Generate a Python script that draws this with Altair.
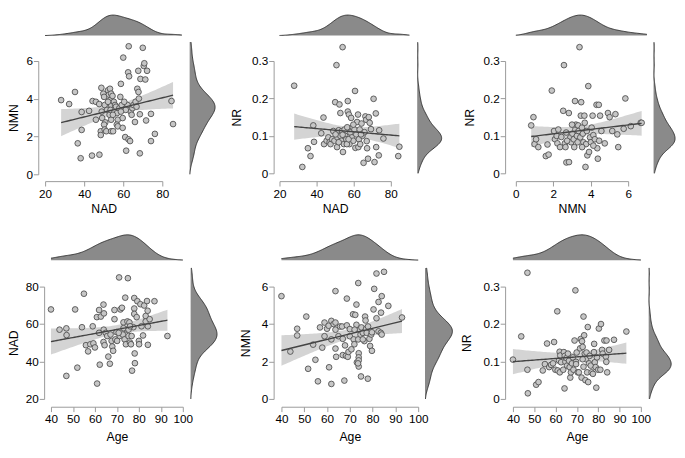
import altair as alt
import numpy as np
import pandas as pd

FONT = "Liberation Sans"
AXIS_GREY = "#9a9a9a"

# ---- data: (x, y) per panel ----
nad_nmn = [(28.2,3.93),(32.3,3.72),(35.3,4.36),(36.7,1.64),(38.7,3.30),(38.7,2.35),(38.2,0.85),(42.5,3.36),
    (44,0.99),(44.3,3.88),(46,3.84),(46,2.89),(47.7,3.72),(47.8,1.04),(48.8,4.58),(49,3.32),(49.2,2.98),
    (48.5,2.28),(48.5,2.08),(49.8,4.27),(50.2,4.10),(50.5,3.67),(50.8,2.75),(50.2,2.63),(50.5,2.37),
    (51.3,2.28),(51.7,3.41),(52.2,4.45),(52.7,4.22),(53,3.15),(53.2,4.53),(53.8,4.27),(53.3,3.93),
    (53.8,3.67),(53.5,3.41),(53.8,2.89),(53.8,2.28),(54.8,2.28),(54.5,4.15),(55.2,3.84),(55.5,3.32),
    (55.8,3.67),(56.3,3.58),(56.8,3.24),(57.2,2.89),(56.7,2.63),(57.2,2.54),(58,3.50),(58.5,4.10),
    (58.8,4.79),(59.2,3.67),(59.7,2.98),(59.7,2.46),(60,6.18),(61,1.97),(61.5,1.25),(62.2,3.67),
    (62.7,1.85),(62.5,5.40),(63,5.19),(62.8,6.78),(63.5,1.76),(63.8,3.32),(64.3,3.15),(64.7,3.50),
    (65.2,3.67),(66,2.77),(66.3,3.84),(66.8,3.58),(67.2,4.53),(67.7,5.48),(67.8,4.36),(68,4.01),
    (68.5,3.18),(68.5,1.11),(68.8,5.05),(70,6.70),(70.5,5.74),(70.8,5.88),(71.3,5.02),(72.2,5.48),
    (71.7,2.85),(74.2,3.20),(74.2,1.76),(76.2,2.14),(84.7,3.88),(85.5,2.66),(52.2,3.84),(54.7,3.15),
    (60.5,3.84),(61.3,3.41),(58.8,3.32)]

nad_nr = [(27.9,0.234),(32.3,0.017),(35.3,0.067),(36.7,0.046),(38.2,0.128),(38.6,0.084),(42.5,0.107),
    (43.7,0.149),(44,0.078),(45.4,0.087),(46.3,0.096),(47,0.083),(47.5,0.078),(48.4,0.091),(49,0.113),
    (49.6,0.087),(50,0.190),(50.7,0.289),(51,0.070),(51.2,0.096),(51.9,0.115),(52.3,0.184),(52.8,0.161),
    (52.8,0.100),(53.3,0.087),(53.7,0.113),(54,0.337),(54.2,0.057),(54.7,0.078),(55.1,0.117),(55.4,0.100),
    (56,0.091),(56.5,0.123),(56.8,0.193),(56.8,0.165),(57.4,0.157),(57.7,0.078),(58.2,0.109),(58.6,0.148),
    (59,0.096),(59.5,0.123),(59.8,0.087),(60.4,0.117),(60.7,0.220),(60.9,0.068),(61.4,0.104),(61.8,0.137),
    (62.3,0.157),(62.5,0.070),(62.8,0.091),(63.2,0.117),(63.5,0.078),(64.2,0.133),(64.7,0.100),(65.3,0.028),
    (65.8,0.110),(66.3,0.152),(66.7,0.143),(67,0.086),(67.2,0.067),(67.7,0.039),(68.1,0.150),(68.6,0.135),
    (69.3,0.118),(70.7,0.199),(71.2,0.030),(71.9,0.160),(72.1,0.070),(73.5,0.048),(73.7,0.115),(76,0.093),
    (84.6,0.071),(84,0.046),(50.2,0.104),(54,0.103),(56.3,0.078),(51.9,0.083),(59.8,0.130),(63.9,0.104),
    (57.2,0.091)]

nmn_nr = [(0.82,0.128),(0.94,0.150),(1.0,0.078),(1.08,0.091),(1.2,0.070),(1.6,0.046),(1.75,0.050),
    (1.69,0.077),(1.92,0.221),(2.04,0.113),(2.09,0.091),(2.18,0.100),(2.27,0.117),(2.22,0.080),(2.36,0.070),
    (2.43,0.097),(2.53,0.167),(2.57,0.289),(2.62,0.080),(2.69,0.109),(2.65,0.070),(2.7,0.029),(2.84,0.030),
    (2.83,0.161),(2.91,0.096),(2.95,0.083),(3.02,0.106),(3.09,0.091),(3.12,0.070),(3.16,0.193),(3.18,0.117),
    (3.21,0.130),(3.26,0.100),(3.3,0.083),(3.33,0.128),(3.35,0.113),(3.4,0.337),(3.44,0.096),(3.47,0.154),
    (3.49,0.190),(3.53,0.122),(3.58,0.106),(3.61,0.083),(3.66,0.154),(3.68,0.135),(3.72,0.017),(3.75,0.078),
    (3.79,0.113),(3.82,0.048),(3.87,0.233),(3.91,0.057),(3.96,0.096),(4.01,0.083),(4.05,0.122),(4.1,0.154),
    (4.14,0.102),(4.22,0.091),(4.31,0.183),(4.35,0.067),(4.38,0.039),(4.43,0.183),(4.45,0.087),(4.5,0.154),
    (4.57,0.113),(4.75,0.080),(4.92,0.161),(5.01,0.150),(5.15,0.113),(5.32,0.158),(5.42,0.104),(5.47,0.070),
    (5.76,0.119),(5.85,0.200),(6.14,0.126),(6.67,0.135),(6.72,0.135),(2.74,0.087),(3.54,0.070),(4.14,0.074),
    (3.0,0.130)]

age_nad = [(40,67.8),(43.9,57.0),(47,57.7),(47.1,54.1),(47,32.3),(51,67.8),(52,36.7),(54.1,58.3),(55,76.2),
    (55.9,48.7),(56.9,45.4),(57.9,49.2),(59,58.8),(59.3,49.7),(60,47.5),(60.9,63.7),(61,28.2),(61.9,67.5),
    (61.9,55.3),(62.2,38.3),(62.7,64.0),(63.9,70.4),(64.1,65.7),(64,57.0),(63.9,50.4),(64.4,48.7),(64.9,55.3),
    (65.6,53.6),(66.1,42.6),(66.8,38.8),(67.1,54.4),(67.6,51.0),(67.9,48.0),(68.3,45.7),(68.9,67.5),(68.9,62.6),
    (69.3,51.8),(69.8,55.7),(70.1,51.0),(71,84.9),(71.3,53.6),(71.6,67.8),(72.3,68.7),(72.7,54.4),(73,60.9),
    (73.5,51.8),(73.8,74.1),(74.1,49.2),(74.5,57.0),(74.8,61.4),(75,84.5),(75.3,53.6),(75.7,60.9),(76,50.1),
    (76.4,49.2),(76.7,53.6),(76.9,35.1),(77.5,58.3),(77.9,73.9),(77.9,68.3),(77.9,65.4),(78.1,44.3),(78.2,39.1),
    (79,63.7),(79.3,72.2),(80,51.0),(80.1,49.2),(80.7,70.6),(81.2,58.8),(81.9,53.9),(82.4,69.9),(83.1,64.3),
    (83.1,61.4),(83.7,72.3),(84,67.1),(84.1,58.8),(84.1,48.9),(84.9,62.6),(87.1,72.2),(93,53.6),(73,57.8),
    (75.3,57.0),(70.8,55.3),(76,58.8)]

age_nmn = [(40,5.49),(43.9,2.53),(46.9,3.75),(46.9,3.39),(50.9,4.40),(51.7,1.61),(53.9,2.90),(54.9,2.09),
    (56,0.94),(56.9,3.82),(57.9,2.74),(58.9,3.35),(58.9,4.08),(60,3.75),(60.7,3.91),(60.9,1.69),(61.9,4.17),
    (61.9,0.80),(61.9,3.18),(62.9,4.0),(63.7,5.76),(63.7,4.08),(63.7,3.70),(63.7,2.69),(64,2.25),(65,3.35),
    (65.7,3.87),(66.6,3.87),(66.9,3.21),(66.9,2.34),(67.6,0.98),(67.9,2.86),(68.3,2.30),(68.7,5.36),(68.7,3.93),
    (69.1,2.25),(69.4,2.51),(70,3.73),(70,3.35),(70.7,2.65),(71.4,4.52),(71.7,3.18),(72,2.92),(72.4,4.49),
    (72.9,5.04),(73.1,1.95),(72.9,3.96),(73.7,6.19),(73.7,3.18),(73.9,2.44),(73.9,2.22),(73.9,2.06),(73.9,1.73),
    (73.6,1.90),(74.3,3.70),(74.7,3.44),(74.9,1.20),(75.1,3.82),(75.7,3.53),(76.4,3.09),(76.7,4.40),(76.9,4.19),
    (77.1,3.73),(77.4,3.53),(77.9,1.08),(78,3.87),(78.6,3.21),(78.9,2.83),(79.4,3.44),(79.7,3.56),(79.7,2.57),
    (80.4,4.78),(80.7,5.88),(81.7,4.31),(81.7,6.70),(82.6,5.18),(82.6,3.61),(83.6,3.53),(83.7,4.61),(84,5.49),
    (84,3.44),(85,6.79),(86.9,4.97),(92.9,4.35),(72.1,3.70),(75.7,3.18)]

age_nr = [(40,0.105),(43.9,0.167),(46.8,0.337),(46.8,0.078),(47,0.015),(50.9,0.038),(52,0.045),(54,0.076),
    (55,0.093),(56,0.148),(57,0.085),(57.9,0.091),(58.8,0.095),(59.3,0.152),(59.9,0.078),(60.8,0.234),(61,0.076),
    (61.6,0.103),(61.9,0.126),(62,0.071),(62.2,0.116),(62.6,0.098),(63.6,0.078),(63.9,0.125),(64.2,0.028),
    (64.3,0.115),(64.6,0.099),(65.1,0.109),(65.4,0.089),(65.8,0.121),(66.3,0.102),(66.6,0.085),(66.9,0.057),
    (67.2,0.071),(67.7,0.095),(68.1,0.111),(68.4,0.078),(68.9,0.156),(69.3,0.290),(69.6,0.099),(69.9,0.124),
    (70.4,0.071),(70.9,0.071),(71.5,0.135),(71.8,0.160),(72.2,0.057),(72.4,0.154),(72.7,0.139),(73.1,0.220),
    (73.1,0.086),(73.4,0.170),(73.7,0.121),(74,0.050),(74.2,0.106),(74.5,0.124),(74.8,0.071),(75.1,0.192),
    (75.3,0.045),(75.7,0.095),(76,0.115),(76.5,0.089),(76.9,0.071),(77.5,0.067),(78,0.125),(78.1,0.147),
    (78.4,0.098),(78.8,0.085),(79.1,0.030),(79.4,0.111),(80,0.078),(80.3,0.188),(81,0.078),(81.3,0.200),
    (81.8,0.131),(82.1,0.121),(82.9,0.156),(83.6,0.113),(83.8,0.099),(83.9,0.156),(84.2,0.071),(85.1,0.131),
    (87.4,0.158),(93.2,0.180),(69.6,0.093),(72.7,0.106)]

# tick values
nad_ticks = [20, 40, 60, 80]
nmn_ticks = [0, 2, 4, 6]
nr_ticks = [0, 0.1, 0.2, 0.3]
age_ticks = [40, 50, 60, 70, 80, 90, 100]


def fit_band(xv, yv):
    x = np.asarray(xv, float)
    y = np.asarray(yv, float)
    n = len(x)
    b1, b0 = np.polyfit(x, y, 1)
    xg = np.linspace(x.min(), x.max(), 60)
    yh = b0 + b1 * xg
    s = np.sqrt(np.sum((y - (b0 + b1 * x)) ** 2) / (n - 2))
    sxx = np.sum((x - x.mean()) ** 2)
    se = s * np.sqrt(1.0 / n + (xg - x.mean()) ** 2 / sxx)
    t = 1.99
    return pd.DataFrame({"x": xg, "fit": yh, "lo": yh - t * se, "hi": yh + t * se})


def bandwidth(v):
    v = np.asarray(v, float)
    sd = v.std(ddof=1)
    q75, q25 = np.percentile(v, [75, 25])
    return float(1.06 * min(sd, (q75 - q25) / 1.34) * len(v) ** -0.2)


def panel(pairs, g):
    pts = pd.DataFrame(pairs, columns=["x", "y"])
    fit = fit_band(pts["x"], pts["y"])
    xt, yt = g["xticks"], g["yticks"]
    xsc = alt.Scale(domain=[xt[0], xt[-1]], range=g["xr"], nice=False, zero=False)
    ysc = alt.Scale(domain=[yt[0], yt[-1]], range=g["yr"], nice=False, zero=False)
    xaxis = alt.Axis(values=xt, title=g["xtitle"], format=g["xfmt"], grid=False,
                     domainColor=AXIS_GREY, tickColor=AXIS_GREY, tickSize=5,
                     labelPadding=g["xlp"], labelFont=FONT, labelFontSize=12, labelColor="black",
                     titleFont=FONT, titleFontSize=12.5, titleFontWeight="normal", titleColor="black",
                     titleY=g["xty"], titleBaseline="middle", labelFlush=False, labelOverlap=False)
    yaxis = alt.Axis(values=yt, title=g["ytitle"], format=g["yfmt"], grid=False,
                     domainColor=AXIS_GREY, tickColor=AXIS_GREY, tickSize=5, offset=g["yoff"],
                     labelPadding=1, labelFont=FONT, labelFontSize=12, labelColor="black",
                     titleFont=FONT, titleFontSize=12.5, titleFontWeight="normal", titleColor="black",
                     titleX=g["ytx"], titleBaseline="middle", labelFlush=False, labelOverlap=False)

    band = alt.Chart(fit).mark_area(color="#d4d4d4").encode(
        x=alt.X("x:Q", scale=xsc, axis=None),
        y=alt.Y("lo:Q", scale=ysc, axis=None),
        y2="hi:Q")
    dots = alt.Chart(pts).mark_circle(size=34, color="#c6c6c6", stroke="#505050",
                                      strokeWidth=0.9, opacity=1).encode(
        x=alt.X("x:Q", scale=xsc, axis=xaxis),
        y=alt.Y("y:Q", scale=ysc, axis=yaxis))
    line = alt.Chart(fit).mark_line(color="#444444", strokeWidth=1.4).encode(
        x=alt.X("x:Q", scale=xsc, axis=None),
        y=alt.Y("fit:Q", scale=ysc, axis=None))

    bwx = bandwidth(pts["x"])
    bwy = bandwidth(pts["y"])
    tscale = alt.Scale(range=g["tdr"], zero=True, nice=False)
    rscale = alt.Scale(range=g["rdr"], zero=True, nice=False)

    top = alt.Chart(pts).transform_density(
        "x", as_=["value", "density"], extent=g["xext"], bandwidth=bwx, steps=150)
    top_area = top.mark_area(color="#8a8a8a").encode(
        x=alt.X("value:Q", scale=xsc, axis=None),
        y=alt.Y("density:Q", scale=tscale, axis=None, stack=False))
    top_line = top.mark_line(color="#333333", strokeWidth=1).encode(
        x=alt.X("value:Q", scale=xsc, axis=None),
        y=alt.Y("density:Q", scale=tscale, axis=None))

    side = alt.Chart(pts).transform_density(
        "y", as_=["value", "density"], extent=g["yext"], bandwidth=bwy, steps=150)
    side_area = side.mark_area(color="#8a8a8a", orient="horizontal").encode(
        y=alt.Y("value:Q", scale=ysc, axis=None),
        x=alt.X("density:Q", scale=rscale, axis=None, stack=False))
    side_line = side.mark_line(color="#333333", strokeWidth=1).encode(
        y=alt.Y("value:Q", scale=ysc, axis=None),
        x=alt.X("density:Q", scale=rscale, axis=None),
        order="value:Q")

    return alt.layer(band, dots, line, top_area, top_line, side_area, side_line).resolve_scale(
        x="independent", y="independent").properties(width=g["w"], height=g["h"])


row1_common = dict(tdr=[21, 0], xlp=3, xty=28)
row2_common = dict(tdr=[26, 0], xlp=2, xty=31)
INT, DEC = "d", ".1~f"

p1 = panel(nad_nmn, dict(row1_common, xticks=nad_ticks, yticks=nmn_ticks, xtitle="NAD", ytitle="NMN",
                         xfmt=INT, yfmt=INT,
                         xr=[7, 127], yr=[163, 47], xext=[20, 90], yext=[0, 7],
                         rdr=[155, 181], w=241, h=170, yoff=0, ytx=-25))
p2 = panel(nad_nr, dict(row1_common, xticks=nad_ticks, yticks=nr_ticks, xtitle="NAD", ytitle="NR",
                        xfmt=INT, yfmt=DEC,
                        xr=[6, 120], yr=[162, 47], xext=[20, 90], yext=[0, 0.35],
                        rdr=[147, 172], w=222, h=170, yoff=0, ytx=-38))
p3 = panel(nmn_nr, dict(row1_common, xticks=nmn_ticks, yticks=nr_ticks, xtitle="NMN", ytitle="NR",
                        xfmt=INT, yfmt=DEC,
                        xr=[11, 126], yr=[162, 47], xext=[0, 7], yext=[0, 0.35],
                        rdr=[152, 174], w=174, h=170, yoff=0, ytx=-36))
p4 = panel(age_nad, dict(row2_common, xticks=age_ticks, yticks=nad_ticks, xtitle="Age", ytitle="NAD",
                         xfmt=INT, yfmt=INT,
                         xr=[13, 148], yr=[168, 53], xext=[40, 100], yext=[20, 90],
                         rdr=[156, 183], w=230, h=176, yoff=-6, ytx=-31))
p5 = panel(age_nmn, dict(row2_common, xticks=age_ticks, yticks=nmn_ticks, xtitle="Age", ytitle="NMN",
                         xfmt=INT, yfmt=INT,
                         xr=[8, 148], yr=[168, 53], xext=[40, 100], yext=[0, 7],
                         rdr=[155, 183], w=237, h=176, yoff=0, ytx=-29))
p6 = panel(age_nr, dict(row2_common, xticks=age_ticks, yticks=nr_ticks, xtitle="Age", ytitle="NR",
                        xfmt=INT, yfmt=DEC,
                        xr=[8, 139], yr=[168, 53], xext=[40, 100], yext=[0, 0.35],
                        rdr=[147, 170], w=170, h=176, yoff=0, ytx=-39))

chart = alt.concat(p1, p2, p3, p4, p5, p6, columns=3, spacing={"row": 55, "column": 0},
                   align="none", bounds="flush").properties(
    padding=0, background="white"
).configure_view(strokeWidth=0)

chart.save("out.html", embed_options={"renderer": "svg", "actions": False})
